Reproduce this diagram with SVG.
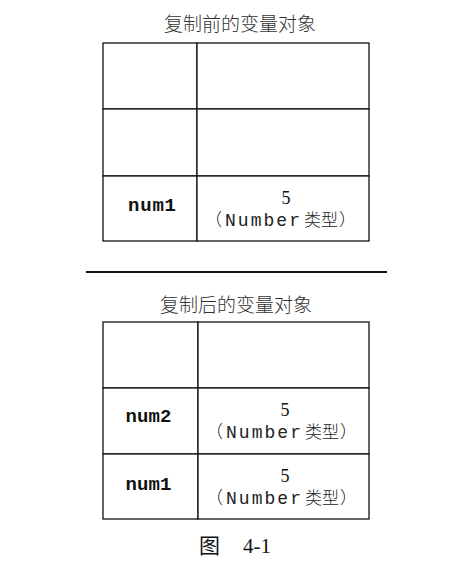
<svg xmlns="http://www.w3.org/2000/svg" width="462" height="571" viewBox="0 0 462 571">
<style>
.cell{fill:#fff;stroke:#111;stroke-width:1.3}
.title{font-family:"Noto Sans CJK SC",sans-serif;font-size:19px;font-weight:300;fill:#333;text-anchor:middle}
.var{font-family:"Liberation Mono",monospace;font-weight:bold;font-size:19px;fill:#111;text-anchor:middle}
.num{font-family:"Liberation Serif",serif;font-size:18px;fill:#111;text-anchor:middle}
.type{font-family:"Liberation Mono",monospace;font-size:18px;fill:#222}
.cjk{font-family:"Noto Sans CJK SC",sans-serif;font-size:17px;font-weight:300;fill:#222}
.cap{font-family:"Liberation Serif","Noto Sans CJK SC",serif;font-size:21px;fill:#111}
</style>
<text class="title" x="240" y="31">复制前的变量对象</text>
<g id="before-table">
<rect class="cell" x="103" y="43" width="94" height="66"/>
<rect class="cell" x="197" y="43" width="172" height="66"/>
<rect class="cell" x="103" y="109" width="94" height="67"/>
<rect class="cell" x="197" y="109" width="172" height="67"/>
<rect class="cell" x="103" y="176" width="94" height="65"/>
<rect class="cell" x="197" y="176" width="172" height="65"/>
</g>
<g id="before-num1">
<text class="var" x="152" y="211" textLength="48" lengthAdjust="spacing">num1</text>
<text class="num" x="286" y="204">5</text>
<text class="cjk" x="205" y="226">（</text>
<text class="type" x="225" y="226" textLength="75" lengthAdjust="spacing">Number</text>
<text class="cjk" x="304" y="226">类型</text>
<text class="cjk" x="339" y="226">）</text>
</g>
<line x1="86" y1="272" x2="387" y2="272" stroke="#111" stroke-width="2"/>
<text class="title" x="236" y="312">复制后的变量对象</text>
<g id="after-table">
<rect class="cell" x="103" y="322" width="95" height="66"/>
<rect class="cell" x="198" y="322" width="171" height="66"/>
<rect class="cell" x="103" y="388" width="95" height="66"/>
<rect class="cell" x="198" y="388" width="171" height="66"/>
<rect class="cell" x="103" y="454" width="95" height="65"/>
<rect class="cell" x="198" y="454" width="171" height="65"/>
</g>
<g id="after-num2">
<text class="var" x="148.5" y="422" textLength="46" lengthAdjust="spacing">num2</text>
<text class="num" x="285" y="416">5</text>
<text class="cjk" x="206" y="438">（</text>
<text class="type" x="226" y="438" textLength="75" lengthAdjust="spacing">Number</text>
<text class="cjk" x="305" y="438">类型</text>
<text class="cjk" x="340" y="438">）</text>
</g>
<g id="after-num1">
<text class="var" x="148.5" y="490" textLength="46" lengthAdjust="spacing">num1</text>
<text class="num" x="285" y="482">5</text>
<text class="cjk" x="206" y="504">（</text>
<text class="type" x="226" y="504" textLength="75" lengthAdjust="spacing">Number</text>
<text class="cjk" x="305" y="504">类型</text>
<text class="cjk" x="340" y="504">）</text>
</g>
<text class="cap" x="199" y="553">图</text>
<text class="cap" x="243" y="553">4-1</text>
</svg>
